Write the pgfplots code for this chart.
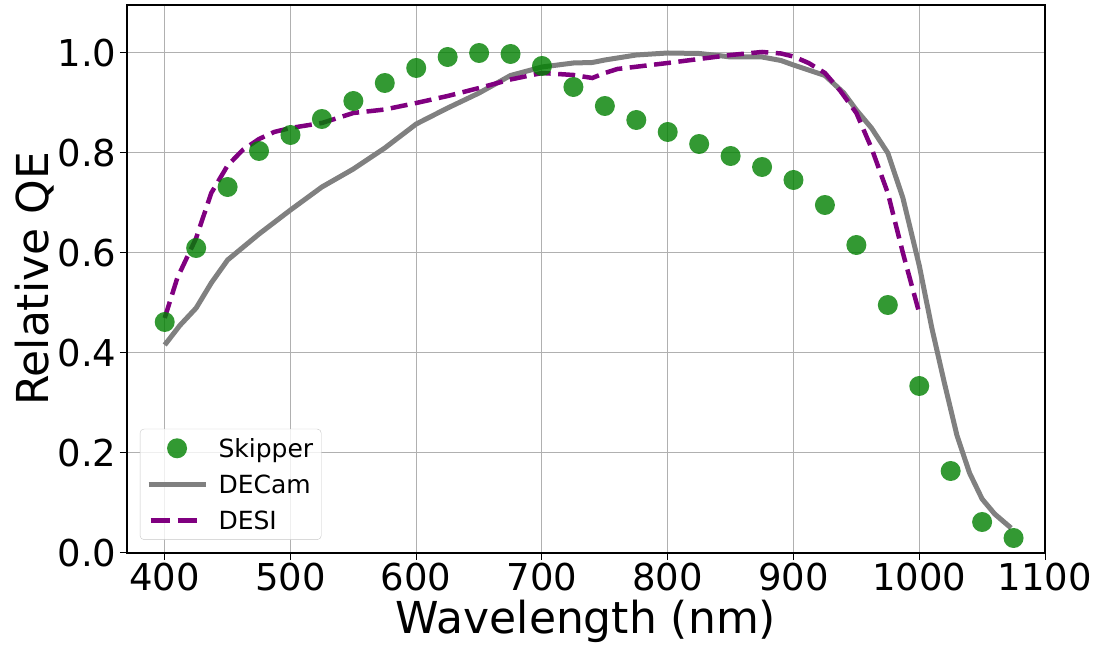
\documentclass[border=0pt]{standalone}
\usepackage{fontspec}
\setmainfont{DejaVu Sans}
\usepackage{pgfplots}
\pgfplotsset{compat=1.18}
\definecolor{skip}{RGB}{0,128,0}
\definecolor{decam}{RGB}{128,128,128}
\definecolor{desi}{RGB}{128,0,128}
\definecolor{gridc}{RGB}{176,176,176}

\begin{document}
\begin{tikzpicture}
\begin{axis}[
  scale only axis,
  width=918pt, height=548pt,
  xmin=370, xmax=1100,
  ymin=0, ymax=1.096,
  xtick={400,500,...,1100},
  ytick={0,0.2,...,1.0},
  /pgf/number format/assume math mode=true,
  xticklabel style={/pgf/number format/1000 sep={}},
  yticklabel style={/pgf/number format/.cd,fixed,fixed zerofill,precision=1},
  ticklabel style={font=\fontsize{37}{44}\selectfont},
  tick pos=left,
  tick align=outside,
  major tick length=7pt,
  tick style={line width=1pt,black},
  axis line style={line width=1.2pt},
  grid=major,
  grid style={draw=gridc,line width=1pt},
  xlabel={Wavelength (nm)},
  ylabel={Relative QE},
  label style={font=\fontsize{44}{52}\selectfont},
  xlabel style={yshift=-2pt},
  ylabel style={yshift=-3pt},
  legend cell align=left,
  legend style={at={(0.014,0.024)},anchor=south west,
    font=\fontsize{25}{30}\selectfont,
    draw=gridc!70,rounded corners=4pt,fill=white,fill opacity=0.8,text opacity=1,
    row sep=12pt, inner xsep=6pt, inner ysep=7pt},
]
\addplot[only marks,mark=*,mark size=10pt,color=skip,
  mark options={draw=skip,draw opacity=0,fill=skip,fill opacity=0.8},
  legend image code/.code={\fill[skip,fill opacity=0.8,draw=none] (28.5pt,0pt) circle (10pt); \path[draw=none] (0pt,0pt) -- (68pt,0pt);}]
coordinates{
(400,0.462)(425,0.610)(450,0.732)(475,0.804)(500,0.836)(525,0.868)
(550,0.904)(575,0.940)(600,0.970)(625,0.992)(650,1.000)(675,0.998)
(700,0.974)(725,0.932)(750,0.894)(775,0.866)(800,0.842)(825,0.818)
(850,0.794)(875,0.772)(900,0.746)(925,0.696)(950,0.616)(975,0.496)
(1000,0.334)(1025,0.164)(1050,0.062)(1075,0.030)
};
\addlegendentry{Skipper}
\addplot[decam,line width=5pt,
  legend image code/.code={\draw[decam,line width=5pt] (0pt,0pt) -- (57pt,0pt); \path[draw=none] (0pt,0pt) -- (68pt,0pt);}]
coordinates{
(400,0.416)(412,0.455)(425,0.490)(437,0.540)(450,0.586)(475,0.638)
(500,0.686)(525,0.732)(550,0.768)(575,0.810)(600,0.858)(625,0.890)
(650,0.920)(675,0.955)(700,0.972)(725,0.980)(740,0.981)(750,0.986)
(775,0.996)(800,1.000)(825,0.999)(840,0.995)(850,0.992)(875,0.992)
(890,0.985)(900,0.976)(925,0.955)(940,0.920)(950,0.886)(962,0.850)
(975,0.800)(987,0.710)(1000,0.575)(1010,0.450)(1020,0.340)(1030,0.235)
(1040,0.160)(1050,0.108)(1060,0.078)(1073,0.050)
};
\addlegendentry{DECam}
\addplot[desi,line width=4.5pt,dash pattern=on 17pt off 7.5pt,
  legend image code/.code={\draw[desi,line width=4.5pt,dash pattern=on 19pt off 8pt] (2pt,0pt) -- (48pt,0pt); \path[draw=none] (0pt,0pt) -- (68pt,0pt);}]
coordinates{
(400,0.470)(410,0.550)(425,0.630)(437,0.720)(450,0.775)(462,0.806)
(475,0.828)(487,0.842)(500,0.850)(525,0.860)(550,0.880)(575,0.887)
(600,0.900)(625,0.914)(650,0.930)(675,0.947)(700,0.960)(725,0.956)
(740,0.950)(750,0.960)(760,0.968)(800,0.980)(825,0.988)(850,0.996)
(875,1.002)(890,0.999)(900,0.993)(912,0.980)(925,0.960)(937,0.925)
(950,0.880)(962,0.810)(975,0.720)(987,0.600)(1000,0.480)
};
\addlegendentry{DESI}
\end{axis}
\path ([xshift=-127pt]current axis.west) -- ([xshift=54pt]current axis.east);
\path ([yshift=5pt]current axis.north) -- ([yshift=-92pt]current axis.south);
\end{tikzpicture}
\end{document}
